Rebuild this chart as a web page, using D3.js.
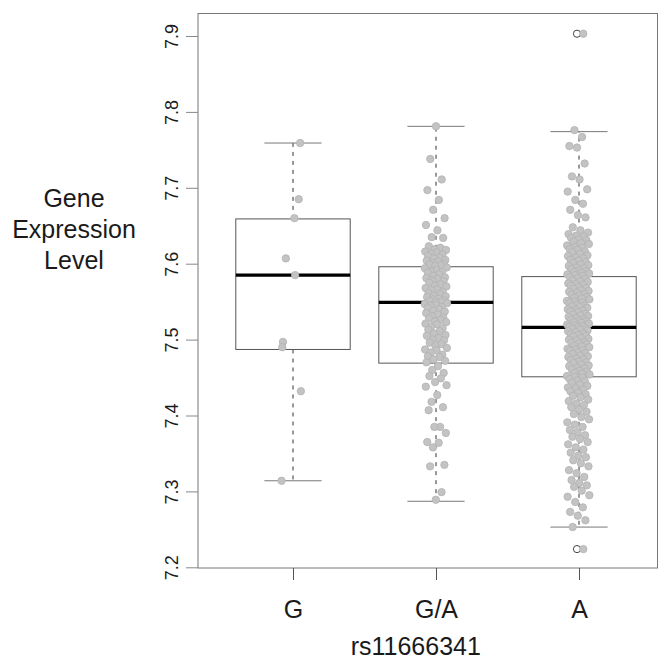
<!DOCTYPE html>
<html><head><meta charset="utf-8">
<script src="https://cdn.jsdelivr.net/npm/d3@7"></script>
<style>
body{margin:0;background:#fff}
svg{display:block}
text{font-family:"Liberation Sans",Arial,Helvetica,sans-serif;fill:#1a1a1a}
</style>
</head><body><svg id="c" width="659" height="661"></svg>
<script>
// ---- data ----
const categories = ["G", "G/A", "A"];
const yTicks = [7.2, 7.3, 7.4, 7.5, 7.6, 7.7, 7.8, 7.9];
const xTitle = "rs11666341";
const yTitle = ["Gene", "Expression", "Level"];
const q1 = [7.487, 7.469, 7.451];
const medians = [7.585, 7.549, 7.516];
const q3 = [7.659, 7.596, 7.583];
const whiskerLow = [7.314, 7.287, 7.253];
const whiskerHigh = [7.759, 7.781, 7.774];
const outliersA = [7.903, 7.224];

const valuesG = [7.759, 7.685, 7.660, 7.607, 7.585, 7.497, 7.490, 7.432, 7.314];
const jitterG = [0.05, 0.04, 0.01, -0.05, 0.015, -0.07, -0.075, 0.055, -0.08];

const valuesGA = [
 7.781, 7.738, 7.711, 7.697, 7.684, 7.671, 7.660, 7.651, 7.644, 7.635, 7.634, 7.623, 7.621,
 7.619, 7.618, 7.616, 7.615, 7.613, 7.612, 7.610, 7.608, 7.607, 7.605, 7.604, 7.603, 7.601,
 7.600, 7.599, 7.598, 7.597,
 7.595, 7.594, 7.592, 7.590, 7.589, 7.588, 7.586, 7.584, 7.582, 7.581, 7.580, 7.578, 7.577,
 7.575, 7.573, 7.571, 7.570, 7.568, 7.566, 7.565, 7.563, 7.561, 7.560, 7.558, 7.557, 7.556,
 7.554, 7.553, 7.552, 7.551, 7.550, 7.549, 7.548,
 7.547, 7.546, 7.545, 7.543, 7.542, 7.540, 7.538, 7.537, 7.535, 7.533, 7.531, 7.529, 7.528,
 7.526, 7.524, 7.523, 7.521, 7.520, 7.517, 7.515, 7.513, 7.511, 7.508, 7.506, 7.505, 7.502,
 7.500, 7.499, 7.496, 7.494, 7.492, 7.489, 7.487, 7.486, 7.483, 7.480, 7.478, 7.477, 7.474,
 7.472, 7.470,
 7.465, 7.460, 7.456, 7.452, 7.449, 7.444, 7.440, 7.438, 7.427, 7.418, 7.411, 7.407, 7.385,
 7.385, 7.377, 7.365, 7.364, 7.358, 7.335, 7.333, 7.299, 7.289
];

const valuesA = [
 7.776, 7.767, 7.755, 7.753, 7.732, 7.715, 7.711, 7.698, 7.695, 7.684, 7.679, 7.671, 7.664, 7.661, 7.648, 7.644,
 7.641, 7.639, 7.637, 7.636, 7.634, 7.632, 7.631, 7.629, 7.627, 7.626, 7.624, 7.622, 7.621, 7.619,
 7.618, 7.616, 7.615, 7.613, 7.611, 7.610, 7.608, 7.607, 7.605, 7.604, 7.602, 7.601, 7.599, 7.598,
 7.597, 7.595, 7.594, 7.593, 7.591, 7.590, 7.589, 7.588, 7.587, 7.586, 7.585, 7.584,
 7.582, 7.581, 7.580, 7.578, 7.577, 7.576, 7.574, 7.573, 7.572, 7.571, 7.569, 7.568, 7.567, 7.565,
 7.564, 7.563, 7.562, 7.560, 7.559, 7.558, 7.556, 7.555, 7.554, 7.553, 7.551, 7.550, 7.549, 7.548,
 7.546, 7.545, 7.544, 7.543, 7.542, 7.540, 7.539, 7.538, 7.537, 7.536, 7.534, 7.533, 7.532, 7.531,
 7.530, 7.528, 7.527, 7.526, 7.525, 7.524, 7.523, 7.522, 7.521, 7.520, 7.519, 7.518, 7.517, 7.516,
 7.515, 7.514, 7.513, 7.512, 7.511, 7.510, 7.508, 7.507, 7.506, 7.505, 7.504, 7.502, 7.501, 7.500,
 7.499, 7.497, 7.496, 7.495, 7.494, 7.492, 7.491, 7.490, 7.488, 7.487, 7.486, 7.485, 7.483, 7.482,
 7.481, 7.479, 7.478, 7.477, 7.475, 7.474, 7.473, 7.471, 7.470, 7.469, 7.467, 7.466, 7.465, 7.463,
 7.462, 7.461, 7.459, 7.458, 7.456, 7.455, 7.454, 7.452, 7.451,
 7.450, 7.448, 7.446, 7.445, 7.443, 7.441, 7.439, 7.437, 7.436, 7.434, 7.432, 7.430, 7.428, 7.426,
 7.424, 7.421, 7.419, 7.416, 7.414, 7.411, 7.408, 7.405, 7.402, 7.398, 7.395, 7.391, 7.388, 7.385,
 7.381, 7.378, 7.374, 7.372, 7.369, 7.365, 7.362, 7.358, 7.355, 7.351, 7.347, 7.345, 7.341, 7.337,
 7.333, 7.328, 7.324, 7.319, 7.315, 7.311, 7.308, 7.306, 7.301, 7.295, 7.293, 7.286, 7.279, 7.273,
 7.268, 7.262, 7.253
];

// ---- drawing ----
const svg = d3.select("#c");
const plot = {left: 198, right: 657.5, top: 13.5, bottom: 568};

const y = d3.scaleLinear().domain([7.2, 7.9]).range([567.3, 36]);
const x = d3.scalePoint().domain(categories).range([293, 579]);
const step = x.step();
const boxHalf = 0.4 * step;
const capHalf = 0.2 * step;

// frame
svg.append("rect")
  .attr("x", plot.left).attr("y", plot.top)
  .attr("width", plot.right - plot.left).attr("height", plot.bottom - plot.top)
  .attr("fill", "none").attr("stroke", "#777").attr("stroke-width", 1);

// y axis (ticks + labels)
const yAxis = d3.axisLeft(y).tickValues(yTicks).tickFormat(d3.format(".1f")).tickSize(12).tickPadding(6);
const gy = svg.append("g").attr("transform", `translate(${plot.left},0)`).call(yAxis);
gy.select(".domain").remove();
gy.selectAll(".tick line").attr("stroke", "#888");
gy.selectAll(".tick text")
  .attr("font-size", 18).attr("fill", "#1a1a1a")
  .attr("transform", "rotate(-90)")
  .attr("x", 0).attr("y", -20).attr("dy", 0)
  .attr("text-anchor", "middle");

// x axis
const xAxis = d3.axisBottom(x).tickSize(12).tickPadding(20);
const gx = svg.append("g").attr("transform", `translate(0,${plot.bottom})`).call(xAxis);
gx.select(".domain").remove();
gx.selectAll(".tick line").attr("stroke", "#555");
gx.selectAll(".tick text").attr("font-size", 25).attr("fill", "#1a1a1a").attr("dy", 0).attr("y", 50);

// titles
svg.append("text").attr("x", (plot.left + plot.right) / 2 - 12).attr("y", 655)
  .attr("text-anchor", "middle").attr("font-size", 25).text(xTitle);
svg.append("g").selectAll("text").data(yTitle).join("text")
  .attr("x", 74).attr("y", (d, i) => 207 + i * 31)
  .attr("text-anchor", "middle").attr("font-size", 25).text(d => d);

// boxes
const stats = categories.map((c, i) => ({c, q1: q1[i], med: medians[i], q3: q3[i], lo: whiskerLow[i], hi: whiskerHigh[i]}));
const bg = svg.append("g");
stats.forEach(s => {
  const cx = x(s.c);
  bg.append("line").attr("x1", cx).attr("x2", cx).attr("y1", y(s.q3)).attr("y2", y(s.hi))
    .attr("stroke", "#333").attr("stroke-dasharray", "4,5").attr("stroke-width", 1);
  bg.append("line").attr("x1", cx).attr("x2", cx).attr("y1", y(s.q1)).attr("y2", y(s.lo))
    .attr("stroke", "#333").attr("stroke-dasharray", "4,5").attr("stroke-width", 1);
  bg.append("line").attr("x1", cx - capHalf).attr("x2", cx + capHalf).attr("y1", y(s.hi)).attr("y2", y(s.hi))
    .attr("stroke", "#777");
  bg.append("line").attr("x1", cx - capHalf).attr("x2", cx + capHalf).attr("y1", y(s.lo)).attr("y2", y(s.lo))
    .attr("stroke", "#777");
  bg.append("rect").attr("x", cx - boxHalf).attr("width", 2 * boxHalf)
    .attr("y", y(s.q3)).attr("height", y(s.q1) - y(s.q3))
    .attr("fill", "none").attr("stroke", "#555").attr("stroke-width", 1);
  bg.append("line").attr("x1", cx - boxHalf).attr("x2", cx + boxHalf).attr("y1", y(s.med)).attr("y2", y(s.med))
    .attr("stroke", "#000").attr("stroke-width", 3.2);
});

// outlier circles (open) for A
svg.append("g").selectAll("circle").data(outliersA).join("circle")
  .attr("cx", x("A") - 2).attr("cy", d => y(d)).attr("r", 3.6)
  .attr("fill", "none").attr("stroke", "#444").attr("stroke-width", 1);

// jittered points (deterministic van der Corput spread across the jitter width)
const vdc = (n, b) => { let q = 0, bk = 1 / b; while (n > 0) { q += (n % b) * bk; n = Math.floor(n / b); bk /= b; } return q; };
const jit = (i, b) => (vdc(i + 1, b) * 2 - 1) * 0.08;
const pts = [];
valuesG.forEach((v, i) => pts.push({c: "G", v, j: jitterG[i]}));
valuesGA.forEach((v, i) => pts.push({c: "G/A", v, j: jit(i, 2)}));
valuesA.forEach((v, i) => pts.push({c: "A", v, j: jit(i, 3) - 0.005}));
outliersA.forEach(v => pts.push({c: "A", v, j: 0.03}));
svg.append("g").selectAll("circle").data(pts).join("circle")
  .attr("cx", d => x(d.c) + d.j * step)
  .attr("cy", d => y(d.v))
  .attr("r", 3.7)
  .attr("fill", "#c3c3c3").attr("stroke", "#b3b3b3").attr("stroke-width", 0.8);
</script>
</body></html>
